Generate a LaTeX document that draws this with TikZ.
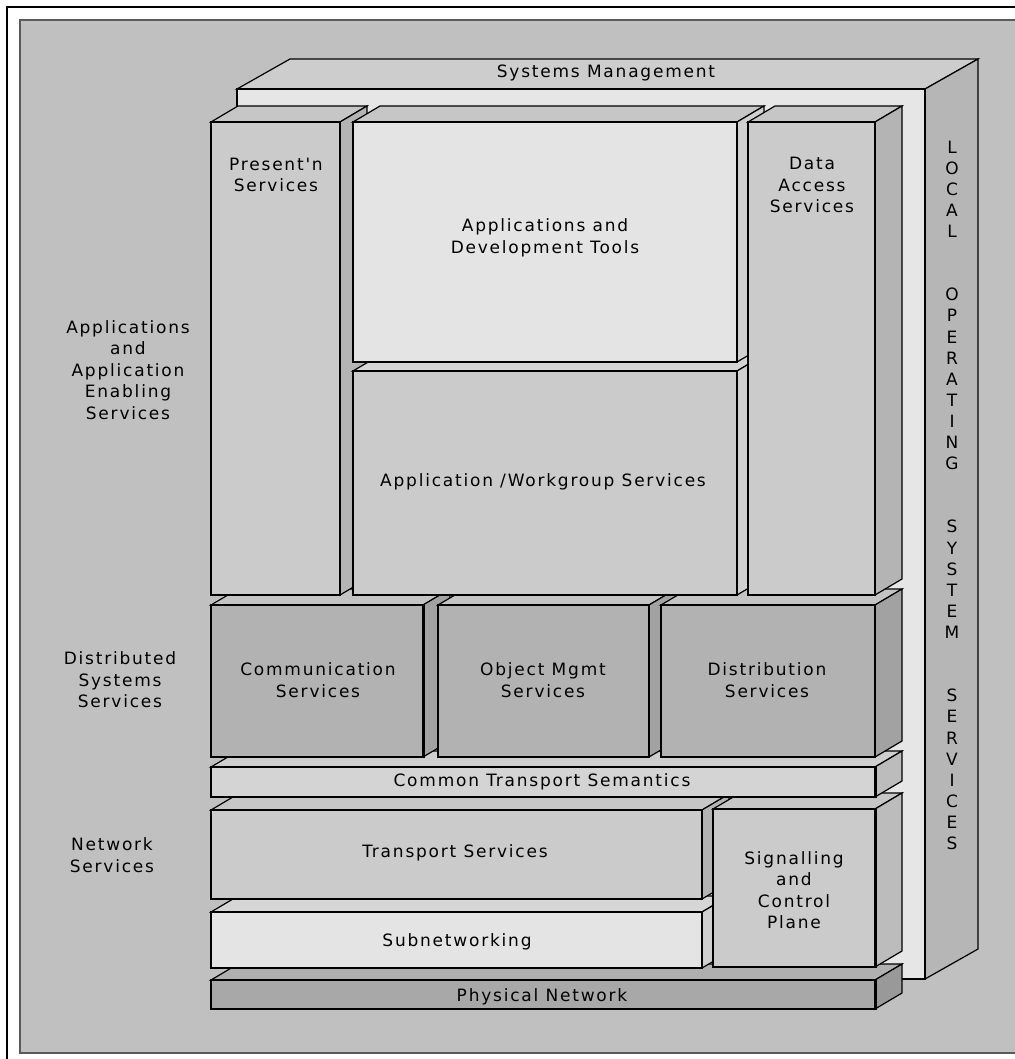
\documentclass[tikz,border=0pt]{standalone}
\usepackage{fontspec}
\usetikzlibrary{fit}
\newfontfamily\lblfont{DejaVu Sans}[LetterSpace=10.5]
\definecolor{panelfill}{HTML}{C0C0C0}
\definecolor{paneledge}{HTML}{5A5A5A}
\definecolor{bktop}{HTML}{CDCDCD}
\definecolor{bkfront}{HTML}{E6E6E6}
\definecolor{bkside}{HTML}{B6B6B6}
\definecolor{midfront}{HTML}{CBCBCB}
\definecolor{midtop}{HTML}{C6C6C6}
\definecolor{midside}{HTML}{B4B4B4}
\definecolor{litefront}{HTML}{E4E4E4}
\definecolor{litetop}{HTML}{D6D6D6}
\definecolor{liteside}{HTML}{D0D0D0}
\definecolor{dsfront}{HTML}{B2B2B2}
\definecolor{dstop}{HTML}{C4C4C4}
\definecolor{dsside}{HTML}{A2A2A2}
\definecolor{ctfront}{HTML}{D4D4D4}
\definecolor{cttop}{HTML}{CFCFCF}
\definecolor{ctside}{HTML}{BCBCBC}
\definecolor{phfront}{HTML}{A8A8A8}
\definecolor{phtop}{HTML}{B0B0B0}
\definecolor{phside}{HTML}{999999}
% block: name, x1, y1, x2, y2, front, top, side
\newcommand{\cubeblk}[8]{%
  \filldraw[edge,fill=#7] (#2,#3) -- (#2+27,#3-16) -- (#4+27,#3-16) -- (#4,#3) -- cycle;
  \filldraw[edge,fill=#8] (#4,#3) -- (#4+27,#3-16) -- (#4+27,#5-16) -- (#4,#5) -- cycle;
  \node[edge,fill=#6,inner sep=0pt,fit={(#2,#3) (#4,#5)}] (#1) {};
}
\begin{document}
\begin{tikzpicture}[x=1pt,y=-1pt,
  edge/.style={draw=black,line width=1.2pt,line join=miter},
  thickedge/.style={draw=black,line width=2.6pt},
  lbl/.style={font=\lblfont\fontsize{17}{21.5}\selectfont,align=center,inner sep=0pt,text=black}]
\useasboundingbox (0,0) rectangle (1014,1059);
\fill[white] (0,0) rectangle (1014,1059);
% outer frame
\draw[line width=2.2pt] (7,1060) -- (7,7) -- (1015,7);
% grey panel
\filldraw[draw=paneledge,line width=1.4pt,fill=panelfill] (1016,20) -- (20,20) -- (20,1053) -- (1016,1053);
% back block (systems management / local OS services)
\filldraw[edge,fill=bktop] (237,89) -- (290,59) -- (978,59) -- (925,89) -- cycle;
\filldraw[edge,fill=bkside] (925,89) -- (978,59) -- (978,949) -- (925,979) -- cycle;
\node[edge,fill=bkfront,inner sep=0pt,fit={(237,89) (925,979)}] (sysfront) {};
\node[lbl] (sysmgmt) at (606,73) {Systems Management};
\foreach \ch/\i in {L/0,O/1,C/2,A/3,L/4,O/7,P/8,E/9,R/10,A/11,T/12,I/13,N/14,G/15,S/18,Y/19,S/20,T/21,E/22,M/23,S/26,E/27,R/28,V/29,I/30,C/31,E/32,S/33}
  \node[lbl] (los\i) at (952,147+21.1*\i) {\ch};
% network services
\cubeblk{phys}{211}{980}{875}{1009}{phfront}{phtop}{phside}
\draw[thickedge] (phys.north east) -- (phys.south east);
\cubeblk{subnet}{211}{912}{702}{968}{litefront}{litetop}{liteside}
\cubeblk{trans}{211}{810}{702}{899}{midfront}{midtop}{midside}
\cubeblk{signal}{713}{809}{875}{967}{midfront}{midtop}{ctside}
\draw[thickedge] (signal.north east) -- (signal.south east);
\cubeblk{common}{211}{767}{875}{797}{ctfront}{cttop}{ctside}
\draw[thickedge] (common.north east) -- (common.south east);
% distributed systems services
\cubeblk{comm}{211}{605}{423}{757}{dsfront}{dstop}{dsside}
\draw[thickedge] (comm.north east) -- (comm.south east);
\cubeblk{objmgmt}{438}{605}{649}{757}{dsfront}{dstop}{dsside}
\cubeblk{distrib}{661}{605}{875}{757}{dsfront}{dstop}{dsside}
% applications
\cubeblk{present}{211}{122}{340}{595}{midfront}{midtop}{midside}
\cubeblk{workgrp}{353}{371}{737}{595}{midfront}{litetop}{liteside}
\cubeblk{apptools}{353}{122}{737}{362}{litefront}{midtop}{liteside}
\cubeblk{dataacc}{748}{122}{875}{595}{midfront}{midtop}{midside}
% labels in blocks
\node[lbl] (presentlbl) at (276,175) {Present'n\\Services};
\node[lbl] (apptoolslbl) at (545,238) {Applications and\\Development Tools};
\node[lbl] (datalbl) at (812,185) {Data\\Access\\Services};
\node[lbl] (workgrplbl) at (543,482) {Application /Workgroup Services};
\node[lbl] (commlbl) at (318,680) {Communication\\Services};
\node[lbl] (objlbl) at (543,680) {Object Mgmt\\Services};
\node[lbl] (distlbl) at (767,680) {Distribution\\Services};
\node[lbl] (commonlbl) at (542,782) {Common Transport Semantics};
\node[lbl] (translbl) at (455,853) {Transport Services};
\node[lbl] (subnetlbl) at (457,942) {Subnetworking};
\node[lbl] (signallbl) at (794,890) {Signalling\\and\\Control\\Plane};
\node[lbl] (physlbl) at (542,997) {Physical Network};
% side labels
\node[lbl] (applbl) at (128,370) {Applications\\and\\Application\\Enabling\\Services};
\node[lbl] (dsslbl) at (120,680) {Distributed\\Systems\\Services};
\node[lbl] (netlbl) at (112,855) {Network\\Services};
\end{tikzpicture}
\end{document}
